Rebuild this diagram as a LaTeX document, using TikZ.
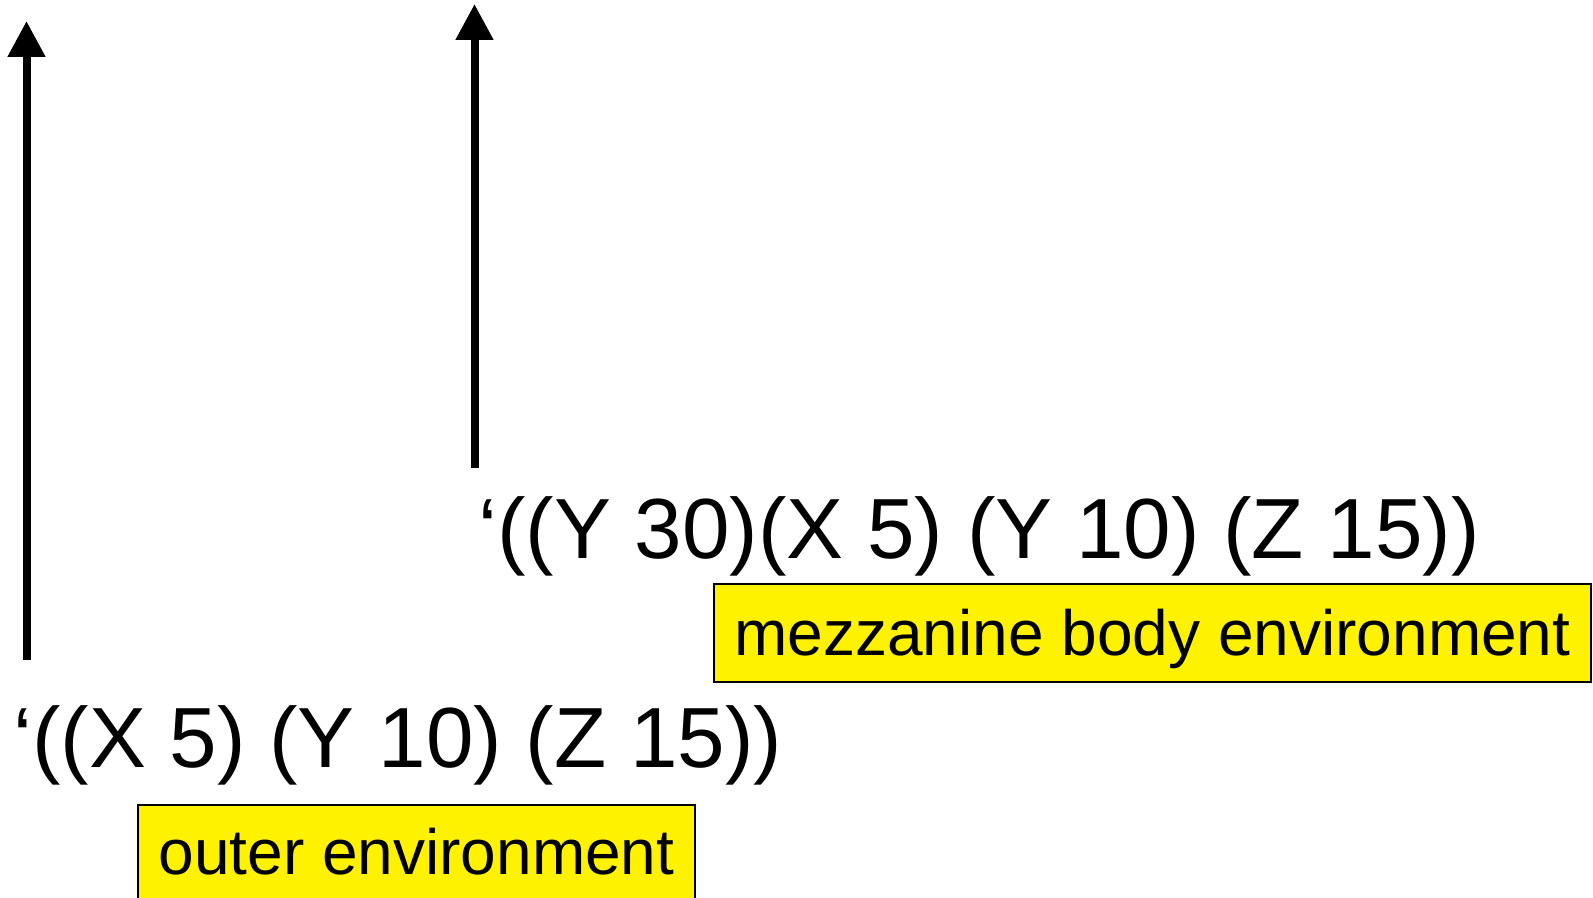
\documentclass[tikz,border=0pt]{standalone}
\usepackage{fontspec}
\setmainfont{Liberation Sans}
\usetikzlibrary{arrows.meta}
\begin{document}
\begin{tikzpicture}[x=0.5pt,y=-0.5pt,
  arr/.style={line width=4pt,-{Triangle[length=18pt,width=18pt]}},
  code/.style={inner sep=0pt,anchor=base west,font=\fontsize{42.7pt}{50pt}\selectfont},
  envbox/.style={draw=black,line width=0.75pt,fill=yellow,inner sep=0pt,anchor=base,
    align=center,font=\fontsize{32pt}{38pt}\selectfont}]
\useasboundingbox (0,0) rectangle (1593,898);
% arrows
\coordinate (a1s) at (26.5,660);
\coordinate (a1e) at (26.5,21);
\coordinate (a2s) at (474.5,468);
\coordinate (a2e) at (474.5,4);
\draw[arr] (a1s) -- (a1e);
\draw[arr] (a2s) -- (a2e);
% code lines
\node[code] (t2) at (478,558) {‘((Y 30)(X 5) (Y 10) (Z 15))};
\node[code] (t1) at (13,767) {‘((X 5) (Y 10) (Z 15))};
% environment boxes
\node[envbox,minimum width=438.5pt,text height=35.5pt,text depth=13.5pt] (b2) at (1152.5,655) {mezzanine body environment};
\node[envbox,minimum width=278.5pt,text height=34.5pt,text depth=25pt] (b1) at (416.5,874) {outer environment};
\end{tikzpicture}
\end{document}
